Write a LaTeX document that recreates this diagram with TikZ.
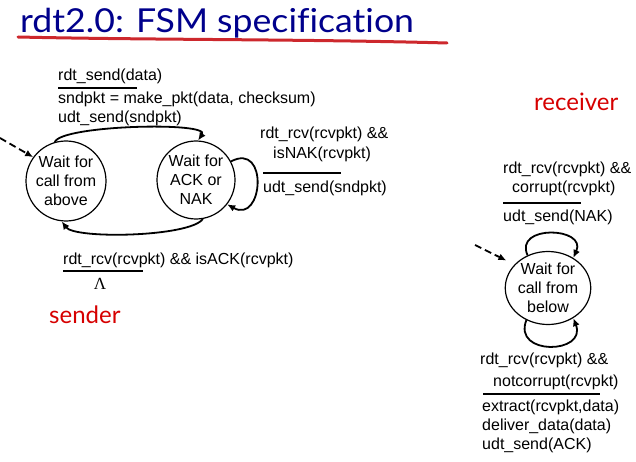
\documentclass[tikz,border=0pt]{standalone}
\usepackage{fontspec}
\setmainfont{Liberation Sans}
\newfontfamily\headfont{Lato}[Ligatures=NoCommon]
\newfontfamily\lamfont{Liberation Serif}
\usetikzlibrary{arrows.meta,shapes.geometric}
\definecolor{navy}{RGB}{0,0,140}
\definecolor{mark}{RGB}{214,0,0}
\definecolor{ink}{RGB}{205,40,45}
\tikzset{
  state/.style={draw,circle,line width=1.2pt,inner sep=0pt,align=center,
    font=\fontsize{16}{19}\selectfont},
  lbl/.style={anchor=base west,inner sep=0pt,font=\fontsize{16}{19}\selectfont},
  trans/.style={line width=1.8pt,-{Latex[length=8pt,width=7pt]}},
  initial/.style={line width=1.8pt,dash pattern=on 7pt off 4pt,
    -{Latex[length=8pt,width=7pt]}},
  sep/.style={line width=1.6pt},
  side/.style={anchor=base west,inner sep=0pt,text=mark,
    font=\headfont\fontsize{24}{28}\selectfont}
}
\begin{document}
\begin{tikzpicture}[x=1pt,y=-1pt]
\path[use as bounding box] (0,0) rectangle (636,462);

% heading with hand-drawn underline
\node[anchor=base west,inner sep=0pt,text=navy,
  font=\headfont\fontsize{33}{36}\selectfont] (title) at (20,33)
  {\scalebox{1.08}[1]{rdt2.0: FSM specification}};
\draw[ink,line width=3pt,line cap=round] (18,37) .. controls (150,40) and (300,39) .. (447,43);

% sender machine
\node[state,minimum size=80pt] (L) at (66,181) {Wait for\\call from\\above};
\node[state,minimum size=78pt] (R) at (196,180) {Wait for\\ACK or\\NAK};
\coordinate (sstart) at (0,138);
\draw[initial] (sstart) -- (L.144);

\draw[trans] (L.106) .. controls +(7,-17) and +(13,-19) .. (R.87);
\draw[trans] (R.280) .. controls +(-13,18) and +(13,18) .. (L.264);
\draw[trans] (R.28) .. controls +(38,-20) and +(36,20) .. (R.322);

\node[lbl] (s1) at (58,81) {rdt\_send(data)};
\draw[sep] (58,88) -- (137,88);
\node[lbl] (s2) at (58,104) {sndpkt = make\_pkt(data, checksum)};
\node[lbl] (s3) at (58,123) {udt\_send(sndpkt)};

\node[lbl] (n1) at (260,139) {rdt\_rcv(rcvpkt) \&\&};
\node[lbl] (n2) at (273,159) {isNAK(rcvpkt)};
\draw[sep] (263,173) -- (341,173);
\node[lbl] (n3) at (263,193) {udt\_send(sndpkt)};

\node[lbl] (a1) at (63,264) {rdt\_rcv(rcvpkt) \&\& isACK(rcvpkt)};
\draw[sep] (63,271) -- (143,271);
\node[anchor=base,inner sep=0pt,font=\lamfont\fontsize{17}{19}\selectfont] (a2) at (100,289) {Λ};

\node[side] (snd) at (49,323) {sender};

% receiver machine
\node[side] (rcv) at (534,111) {receiver};
\node[draw,ellipse,line width=1.2pt,inner sep=0pt,align=center,
  minimum width=77pt,minimum height=73pt,
  font=\fontsize{16}{19}\selectfont] (B) at (548,288) {Wait for\\call from\\below};
\coordinate (rstart) at (475,245);
\draw[initial,shorten >=9pt] (rstart) -- (B.145);

\draw[trans] (B.122) .. controls +(-14,-31) and +(14,-31) .. (B.50);
\draw[trans] (B.236) .. controls +(-14,36) and +(14,36) .. (B.310);

\node[lbl] (c1) at (503,174) {rdt\_rcv(rcvpkt) \&\&};
\node[lbl] (c2) at (512,193) {corrupt(rcvpkt)};
\draw[sep] (503,203) -- (581,203);
\node[lbl] (c3) at (503,221) {udt\_send(NAK)};

\node[lbl] (d1) at (480,364) {rdt\_rcv(rcvpkt) \&\&};
\node[lbl] (d2) at (493,386) {notcorrupt(rcvpkt)};
\draw[sep] (483,394) -- (600,394);
\node[lbl] (d3) at (482,411) {extract(rcvpkt,data)};
\node[lbl] (d4) at (482,430) {deliver\_data(data)};
\node[lbl] (d5) at (482,449) {udt\_send(ACK)};
\end{tikzpicture}
\end{document}
